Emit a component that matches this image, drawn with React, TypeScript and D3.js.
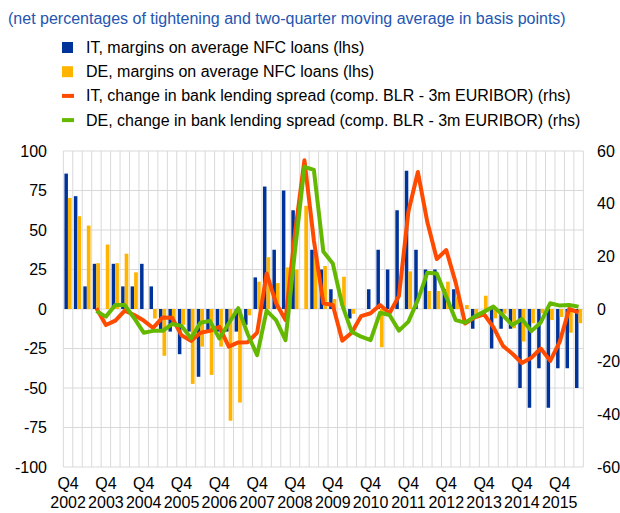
import React from 'react';
import * as d3 from 'd3';

// Categories: quarterly, 2002Q4 .. 2016Q2
const quarters: string[] = [
  '2002Q4',
  '2003Q1', '2003Q2', '2003Q3', '2003Q4',
  '2004Q1', '2004Q2', '2004Q3', '2004Q4',
  '2005Q1', '2005Q2', '2005Q3', '2005Q4',
  '2006Q1', '2006Q2', '2006Q3', '2006Q4',
  '2007Q1', '2007Q2', '2007Q3', '2007Q4',
  '2008Q1', '2008Q2', '2008Q3', '2008Q4',
  '2009Q1', '2009Q2', '2009Q3', '2009Q4',
  '2010Q1', '2010Q2', '2010Q3', '2010Q4',
  '2011Q1', '2011Q2', '2011Q3', '2011Q4',
  '2012Q1', '2012Q2', '2012Q3', '2012Q4',
  '2013Q1', '2013Q2', '2013Q3', '2013Q4',
  '2014Q1', '2014Q2', '2014Q3', '2014Q4',
  '2015Q1', '2015Q2', '2015Q3', '2015Q4',
  '2016Q1', '2016Q2',
];

// IT, margins on average NFC loans (lhs)
const itMargins: number[] = [
  85.7, 71.4, 14.3, 28.6, 0, 28.6, 14.3, 14.3, 28.6, 14.3,
  -14.3, -14.3, -28.6, -14.3, -42.9, -14.3, -14.3, -14.3, -14.3, -10,
  20, 77.5, 37.5, 75, 62.5, 0, 37.5, 25, 12.5, 0,
  -6, 0, 12.5, 37.5, 25, 62.5, 87.5, 37.5, 25, 25,
  12.5, 12.5, 0, -12.5, 0, -25, -12.5, -12.5, -50, -62.5,
  -37.5, -62.5, -37.5, -37.5, -50,
];

// DE, margins on average NFC loans (lhs)
const deMargins: number[] = [
  70.3, 58.7, 52.8, 29, 40.8, 29, 35, 23.2, 0, -6,
  -29.6, -10, -10, -47.4, -23.8, -41.7, -23.8, -70.7, -59.2, -4,
  17.3, 32.8, 16.4, 26.3, 25, 65.3, 35, 27.2, 6.3, 20.4,
  -3, 0, 0, -24.2, 0, 0, 23.8, 0, 11.4, 11.4,
  17.3, 7.8, 2.5, -3, 8.4, -5.9, -3, -12.2, -20.6, -9,
  -2.7, -7, -5, -15, -9,
];

// IT, change in bank lending spread (rhs)
const itSpread: (number | null)[] = [
  null, null, null, 0.3, -6.1, -4.4, -0.6, -2.3, -4.4, -7.2,
  -3.2, -3.3, -10, -12.1, -9, -8.3, -6.8, -14.3, -12.7, -12.6,
  -9, 13.5, 2.2, -4.2, 28.7, 56.5, 26, 2.2, 1.5, -12,
  -9, -2.7, -1.6, 1.5, -1.6, 5, 37, 52, 33, 19,
  22.4, 10, -5.5, -3.2, -2, -7, -14, -17, -20.5, -18.5,
  -15, -19.7, -12.5, 0, -1.3,
];

// DE, change in bank lending spread (rhs)
const deSpread: (number | null)[] = [
  null, null, null, -0.8, -2.9, 1.5, 1.5, -3.5, -9, -8.3,
  -8.3, -5.7, -6.4, -11.1, -5.2, -4.5, -11.2, -5.4, 0.3, -9.5,
  -17.5, -0.6, -4.2, -11.8, 22, 54, 52.8, 21.8, 17.3, 1.5,
  -8.6, -10.5, -11.8, -1.4, -2.3, -8.2, -4.8, 3.4, 13.8, 13.5,
  4.7, -4.2, -5.2, -2.9, -1, 0.9, -2.4, -6.1, -3.8, -8.4,
  -5.1, 2.2, 1.3, 1.5, 0.9,
];

const lhsTicks: number[] = [100, 75, 50, 25, 0, -25, -50, -75, -100];
const rhsTicks: number[] = [60, 40, 20, 0, -20, -40, -60];

const title = '(net percentages of tightening and two-quarter moving average in basis points)';
const legendItems = [
  { label: 'IT, margins on average NFC loans (lhs)', color: '#003399', kind: 'bar' },
  { label: 'DE, margins on average NFC loans (lhs)', color: '#FFB400', kind: 'bar' },
  { label: 'IT, change in bank lending spread (comp. BLR - 3m EURIBOR) (rhs)', color: '#FF4B00', kind: 'line' },
  { label: 'DE, change in bank lending spread (comp. BLR - 3m EURIBOR) (rhs)', color: '#65B800', kind: 'line' },
];

const W = 620;
const H = 513;
const left = 63.33;
const right = 583.33;
const top = 151;
const bottom = 467;
const FONT = '"Liberation Sans", Arial, sans-serif';

export default function App() {
  const x = d3.scaleBand<string>().domain(quarters).range([left, right]).padding(0);
  const yL = d3.scaleLinear().domain([-100, 100]).range([bottom, top]);
  const yR = d3.scaleLinear().domain([-60, 60]).range([bottom, top]);
  const bw = x.bandwidth();
  const cx = (q: string) => (x(q) as number) + bw / 2;

  const lineGen = d3
    .line<number | null>()
    .defined((d) => d != null)
    .x((_, i) => cx(quarters[i]))
    .y((d) => yR(d as number));

  const boundaries = quarters.map((q) => x(q) as number).concat([right]);

  return (
    <svg width={W} height={H} style={{ position: 'absolute', left: 0, top: 0, background: '#fff' }} fontFamily={FONT}>
      <rect x={0} y={0} width={W} height={H} fill="#fff" />
      <text x={8} y={24} fontSize={16} fill="#2455b0">{title}</text>

      {legendItems.map((it, i) => {
        const cy = 47.5 + i * 24.2;
        return (
          <g key={it.label}>
            {it.kind === 'bar' ? (
              <rect x={62} y={cy - 5.5} width={11} height={11} fill={it.color} />
            ) : (
              <rect x={62} y={cy - 2} width={12} height={4} fill={it.color} />
            )}
            <text x={86} y={cy + 5.5} fontSize={16} fill="#000">{it.label}</text>
          </g>
        );
      })}

      {/* grid */}
      {lhsTicks.map((t) => (
        <line key={'h' + t} x1={left} x2={right} y1={yL(t)} y2={yL(t)} stroke="#d9d9d9" strokeWidth={1} />
      ))}
      {boundaries.map((b, i) => (
        <line key={'v' + i} x1={b} x2={b} y1={top} y2={bottom} stroke="#d9d9d9" strokeWidth={1} />
      ))}

      {/* bars */}
      {quarters.map((q, i) => {
        const v = itMargins[i];
        return (
          <rect key={'b' + q} x={(x(q) as number) + 1.1} width={3.5}
            y={Math.min(yL(v), yL(0))} height={Math.abs(yL(v) - yL(0))} fill="#003399" />
        );
      })}
      {quarters.map((q, i) => {
        const v = deMargins[i];
        return (
          <rect key={'y' + q} x={(x(q) as number) + 4.6} width={3.7}
            y={Math.min(yL(v), yL(0))} height={Math.abs(yL(v) - yL(0))} fill="#FFB400" />
        );
      })}

      {/* lines */}
      <path d={lineGen(itSpread) || ''} fill="none" stroke="#FF4B00" strokeWidth={4} strokeLinejoin="round" />
      <path d={lineGen(deSpread) || ''} fill="none" stroke="#65B800" strokeWidth={4} strokeLinejoin="round" />

      {/* axes labels */}
      {lhsTicks.map((t) => (
        <text key={'l' + t} x={47} y={yL(t) + 5.5} fontSize={16} textAnchor="end" fill="#000">{t}</text>
      ))}
      {rhsTicks.map((t) => (
        <text key={'r' + t} x={597} y={yR(t) + 5.5} fontSize={16} textAnchor="start" fill="#000">{t}</text>
      ))}
      {quarters.map((q, i) =>
        i % 4 === 0 ? (
          <g key={'x' + q}>
            <text x={cx(q)} y={489} fontSize={16} textAnchor="middle" fill="#000">Q4</text>
            <text x={cx(q)} y={508} fontSize={16} textAnchor="middle" fill="#000">{q.slice(0, 4)}</text>
          </g>
        ) : null
      )}
    </svg>
  );
}
